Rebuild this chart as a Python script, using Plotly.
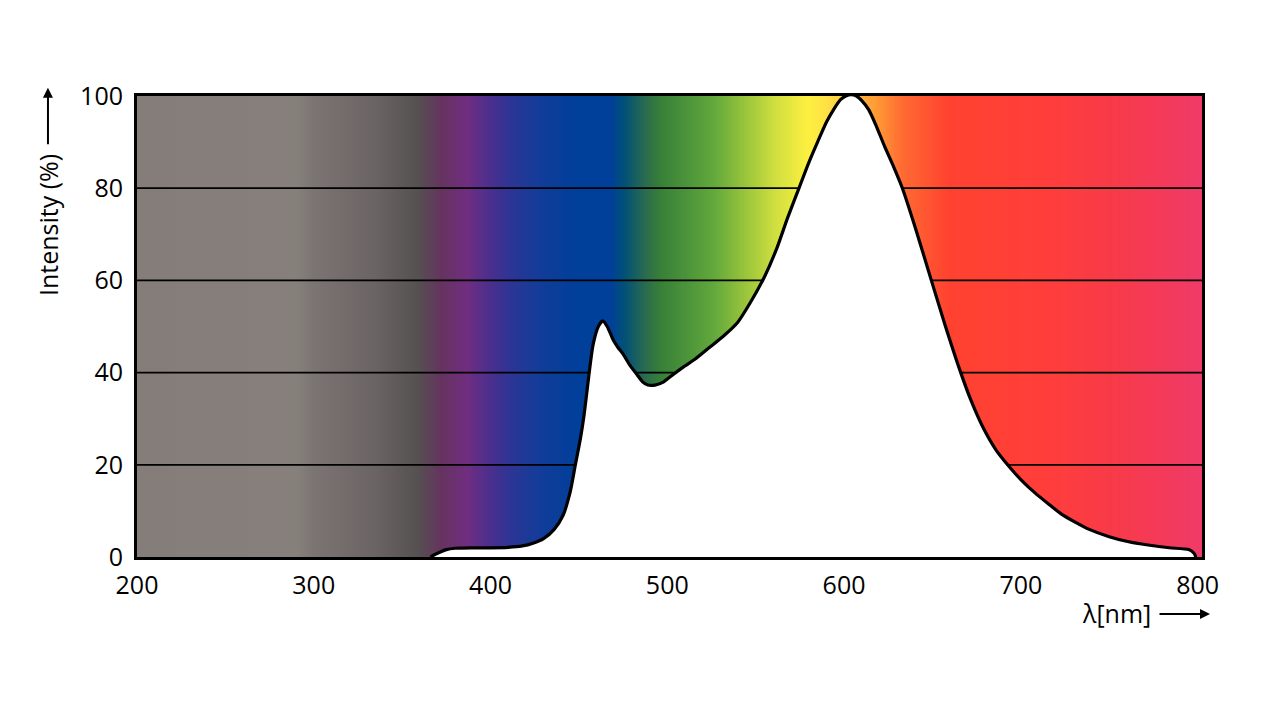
import numpy as np
import plotly.graph_objects as go

# emission spectrum
wavelength = [366, 370, 375, 380, 390, 400, 410, 418, 424, 430, 436, 441, 445, 448,
              451, 453, 455.5, 458, 461, 463.5, 466, 469.5, 472, 475, 479, 483, 486,
              489, 493, 498, 503, 509, 516, 524, 532, 540, 547, 555, 562, 568, 575,
              580, 585, 590, 594, 598, 601, 604, 607, 610, 614, 618, 623, 628, 633,
              640, 649, 657, 666, 672, 679, 686, 693, 700, 708, 716, 723, 731, 738,
              750, 761, 772, 784, 795, 798, 799]
intensity = [0, 0.8, 1.6, 1.9, 2.0, 2.0, 2.1, 2.4, 3.0, 4.0, 6.0, 9.0, 14, 20,
             26, 31, 39, 46, 50, 51.2, 50, 47, 45.5, 44, 41.5, 39.5, 38,
             37.3, 37.3, 38, 39.5, 41.2, 43, 45.5, 48.0, 51.0, 55.2, 60.8, 67, 73.5, 80.5,
             85.5, 90, 94.3, 97, 99.2, 100, 100.3, 100, 99.0, 97.0, 93.7, 89, 84.7, 80,
             71.8, 60.5, 50.5, 40, 33.8, 27.8, 23.2, 19.8, 16.8, 13.9, 11.4, 9.3, 7.5, 6.1,
             4.4, 3.3, 2.6, 2.0, 1.6, 0.8, 0]

x_ticks = [200, 300, 400, 500, 600, 700, 800]
y_ticks = [0, 20, 40, 60, 80, 100]
x_min, x_max = 200, 802.5

# background spectrum colours (wavelength, colour)
spec_nm = [200, 283, 290, 300, 334, 359, 372, 386, 401, 411, 429, 449, 468, 475,
           487, 496, 526, 546, 561, 579, 590, 604, 618, 633, 659, 712, 751, 802.5]
spec_col = ["#857d7a", "#877f7c", "#86807b", "#7b7472", "#6b6464", "#555051",
            "#66335f", "#702e80", "#472f8f", "#2c3595", "#103d99", "#003f9a",
            "#003f9a", "#005078", "#2a6a50", "#378038", "#62a83c", "#a0c83c",
            "#d0df40", "#fdf040", "#ffe045", "#ffc03c", "#ff9a35", "#ff6a32",
            "#ff4230", "#ff3e3a", "#f83a48", "#f03a68"]

cscale = [[(w - x_min) / (x_max - x_min), c] for w, c in zip(spec_nm, spec_col)]
grid_x = np.linspace(x_min, x_max, 700)

FONT = "Open Sans"
FS = 25

fig = go.Figure()

fig.add_trace(go.Heatmap(
    x=grid_x, y=[0, 100], z=[grid_x, grid_x],
    colorscale=cscale, zmin=x_min, zmax=x_max,
    showscale=False, hoverinfo="skip", zsmooth="best"))

for g in y_ticks[1:-1]:
    fig.add_trace(go.Scatter(x=[x_min, x_max], y=[g, g], mode="lines",
                             line=dict(color="black", width=1.8),
                             hoverinfo="skip", showlegend=False))

fig.add_trace(go.Scatter(
    x=wavelength, y=intensity, mode="lines",
    line=dict(color="black", width=3.2, shape="spline", smoothing=0.6),
    fill="tozeroy", fillcolor="white", showlegend=False))

fig.update_xaxes(range=[x_min, x_max], tickvals=x_ticks, ticks="",
                 showgrid=False, zeroline=False, ticklabelstandoff=4,
                 showline=True, mirror=True, linecolor="black", linewidth=3,
                 tickfont=dict(family=FONT, size=FS, color="black"))
fig.update_yaxes(range=[0, 100], tickvals=y_ticks, ticks="",
                 showgrid=False, zeroline=False, ticklabelstandoff=6,
                 showline=True, mirror=True, linecolor="black", linewidth=3,
                 tickfont=dict(family=FONT, size=FS, color="black"))

fig.add_annotation(text="Intensity (%)", textangle=-90, xref="paper", yref="paper",
                   x=-0.0836, y=0.72, xanchor="center", yanchor="middle",
                   showarrow=False, font=dict(family=FONT, size=FS, color="black"))
fig.add_annotation(xref="paper", yref="paper", x=-0.0836, y=1.018, ax=0, ay=58,
                   text="", showarrow=True, arrowhead=2, arrowsize=1, arrowwidth=2,
                   arrowcolor="black")
fig.add_annotation(text="λ[nm]", xref="paper", yref="paper", x=0.92, y=-0.121,
                   xanchor="center", yanchor="middle",
                   showarrow=False, font=dict(family=FONT, size=FS, color="black"))
fig.add_annotation(xref="paper", yref="paper", x=1.0075, y=-0.1235, ax=-52, ay=0,
                   text="", showarrow=True, arrowhead=2, arrowsize=1, arrowwidth=2,
                   arrowcolor="black")

fig.update_layout(width=1283, height=705, paper_bgcolor="white", plot_bgcolor="white",
                  margin=dict(l=129, r=89, t=88, b=156), showlegend=False)

fig.write_html("out.html")
